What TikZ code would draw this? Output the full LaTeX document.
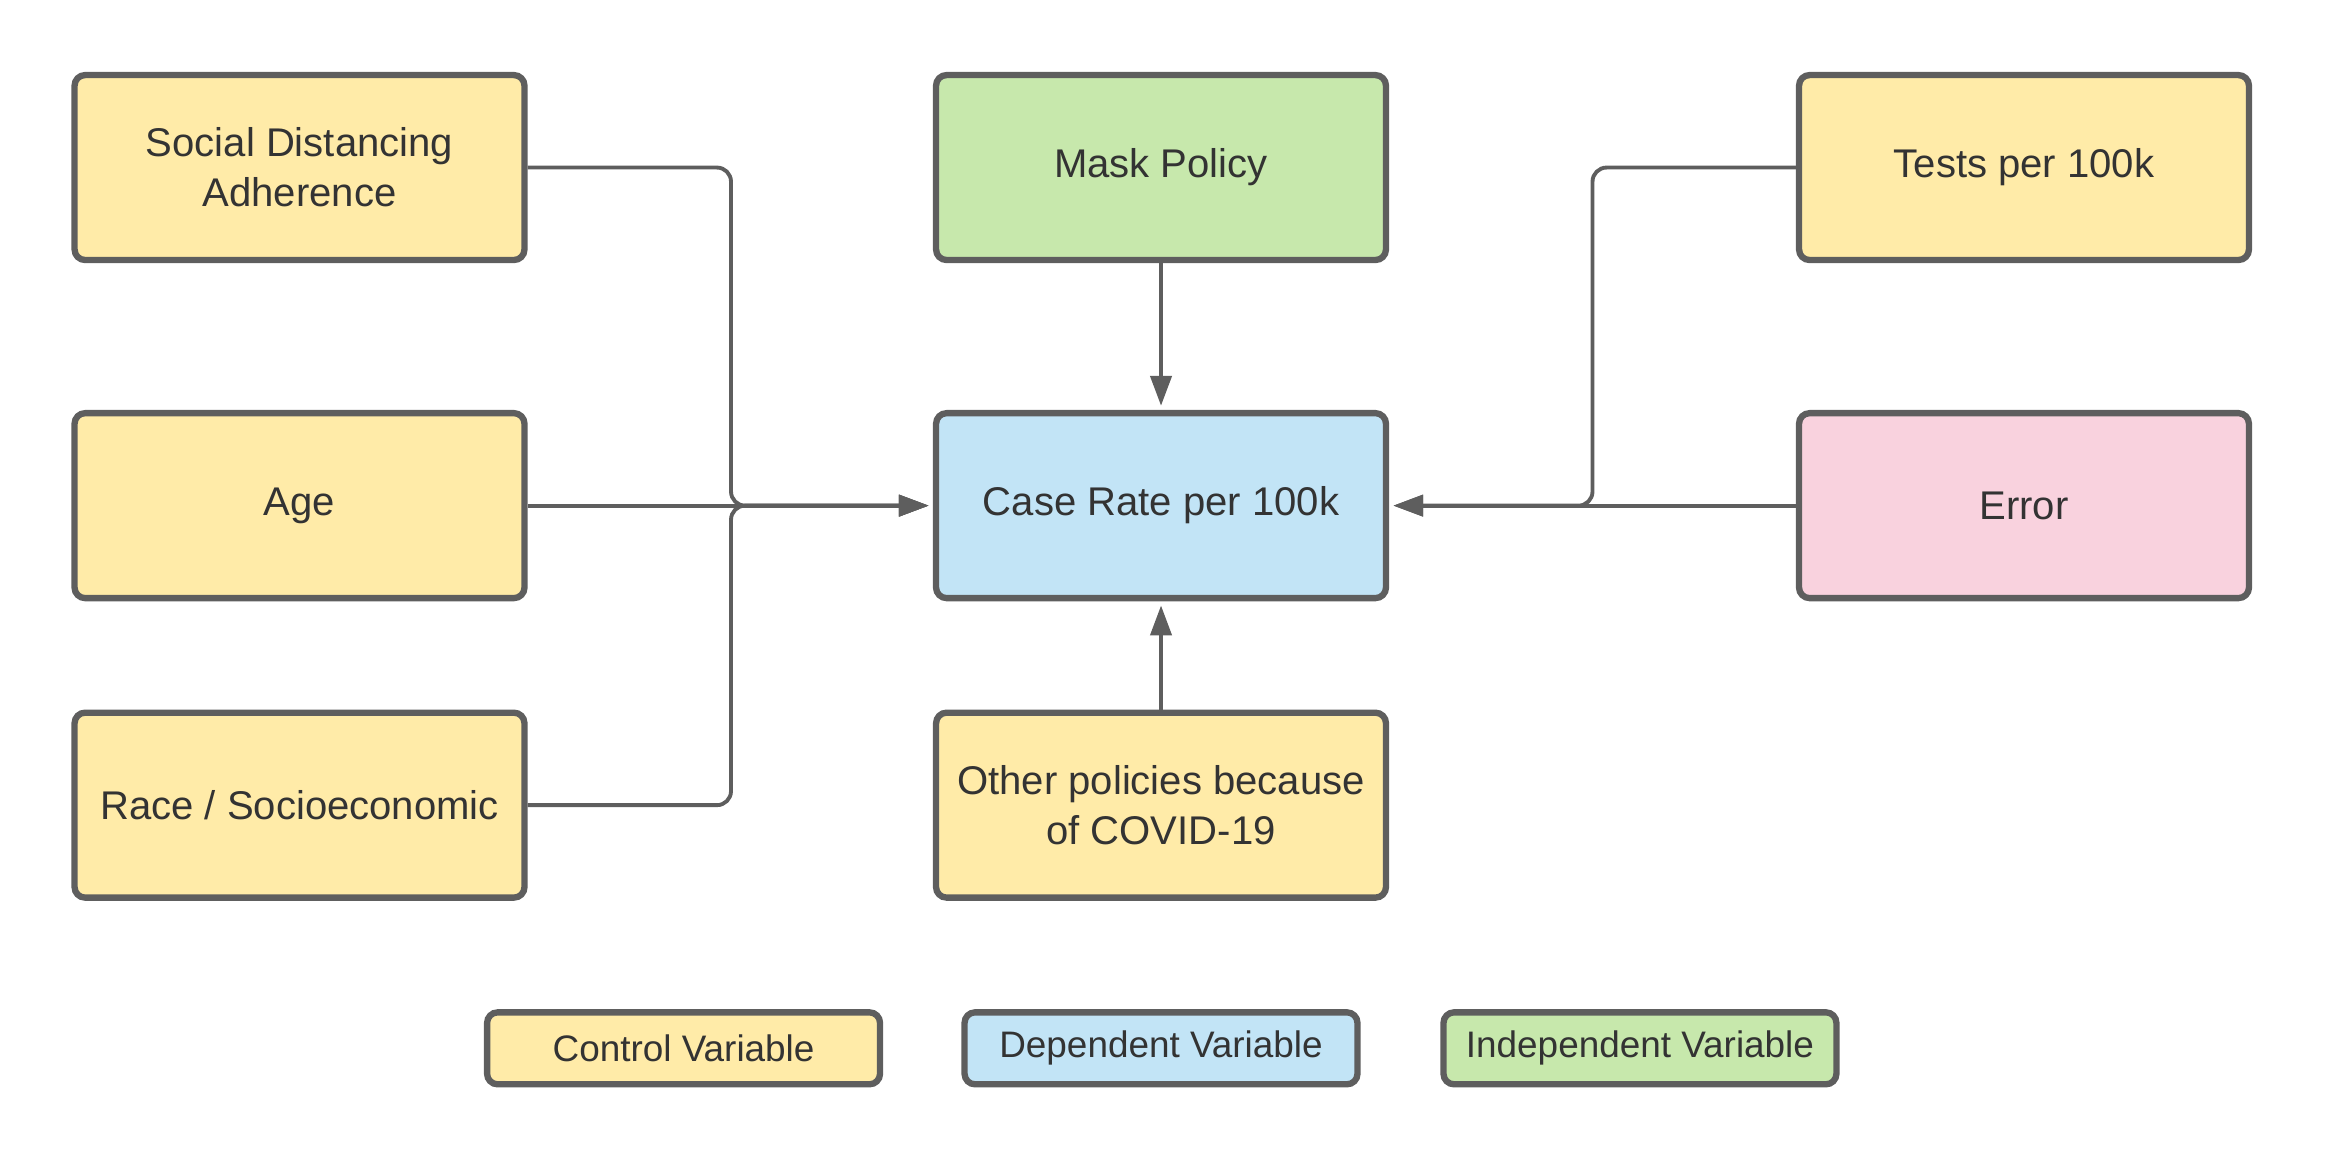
\documentclass[tikz,border=0pt]{standalone}
\usepackage{fontspec}
\setmainfont{Liberation Sans}
\usetikzlibrary{arrows.meta}

\definecolor{ctrlfill}{HTML}{FFEBA8}
\definecolor{depfill}{HTML}{C2E4F6}
\definecolor{indfill}{HTML}{C7E8AC}
\definecolor{errfill}{HTML}{F9D2DE}
\definecolor{edgegray}{HTML}{5E5E5E}
\definecolor{txtgray}{HTML}{333333}

\begin{document}
\begin{tikzpicture}[x=0.01483cm, y=-0.01483cm,
    var/.style={draw=edgegray, line width=1.8pt, rounded corners=3pt, minimum width=4.5cm, minimum height=1.85cm, align=center, text=txtgray, font=\fontsize{11.4}{14.3}\selectfont},
    key/.style={var, minimum width=3.93cm, minimum height=0.72cm, font=\fontsize{10.5}{12}\selectfont},
    link/.style={draw=edgegray, line width=1.1pt, rounded corners=4pt, shorten >=1.2pt, -{Triangle[length=8.5pt,width=6pt]}}]
    \useasboundingbox (0,0) rectangle (1568,784);

    % Variables
    \node[var, fill=ctrlfill] (social) at (202,113) {Social Distancing\\Adherence};
    \node[var, fill=ctrlfill] (age) at (202,341) {Age};
    \node[var, fill=ctrlfill] (race) at (202,543) {Race / Socioeconomic};
    \node[var, fill=indfill] (mask) at (783,113) {Mask Policy};
    \node[var, fill=depfill] (cases) at (783,341) {Case Rate per 100k};
    \node[var, fill=ctrlfill] (other) at (783,543) {Other policies because\\of COVID-19};
    \node[var, fill=ctrlfill] (tests) at (1365,113) {Tests per 100k};
    \node[var, fill=errfill] (error) at (1365,341) {Error};

    % Junctions
    \coordinate (joinL) at (493,341);
    \coordinate (joinR) at (1074,341);

    % Arrows into the case rate
    \draw[link] (social.east) -| (joinL) -- (cases.west);
    \draw[link] (race.east) -| (joinL) -- (cases.west);
    \draw[link] (age) -- (cases);
    \draw[link] (tests.west) -| (joinR) -- (cases.east);
    \draw[link] (error) -- (cases);
    \draw[link] (mask) -- (cases);
    \draw[link] (other) -- (cases);

    % Legend
    \node[key, fill=ctrlfill] (kctrl) at (461,707) {Control Variable};
    \node[key, fill=depfill] (kdep) at (783,707) {Dependent Variable};
    \node[key, fill=indfill] (kind) at (1106,707) {Independent Variable};
\end{tikzpicture}
\end{document}
